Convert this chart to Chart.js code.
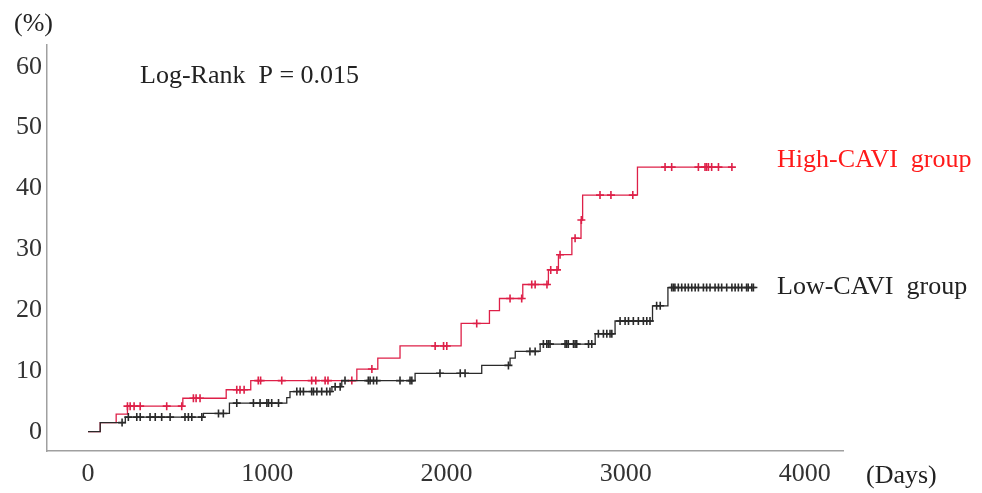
<!DOCTYPE html>
<html>
<head>
<meta charset="utf-8">
<script src="https://cdn.jsdelivr.net/npm/chart.js@4/dist/chart.umd.min.js"></script>
<style>
  body { margin: 0; background: #fff; }
  canvas { display: block; }
</style>
</head>
<body>
<canvas id="kmChart" width="982" height="493"></canvas>
<script>
// cumulative incidence (%) step curves
var highTimes  = [0, 68, 157, 220, 529, 771, 908, 1500, 1617, 1741, 2082, 2240, 2296, 2426, 2569, 2625, 2700, 2751, 2760, 3066];
var highValues = [0, 1.5, 2.9, 4.2, 5.5, 6.9, 8.4, 10.3, 12.1, 14.1, 17.8, 19.9, 21.9, 24.2, 26.6, 29.1, 31.8, 34.8, 38.9, 43.5];
var highCensor = [220, 235, 257, 291, 439, 523, 588, 603, 625, 830, 848, 871, 950, 963, 1081, 1248, 1271, 1323, 1339, 1472,
                  1584, 1937, 1984, 2002, 2169, 2355, 2420, 2476, 2495, 2561, 2582, 2617, 2634, 2718, 2753,
                  2857, 2918, 3040, 3220, 3257, 3406, 3443, 3452, 3462, 3480, 3518, 3593];

var lowTimes  = [0, 68, 208, 644, 789, 1109, 1127, 1361, 1416, 1825, 2197, 2355, 2384, 2523, 2830, 2941, 3150, 3236];
var lowValues = [0, 1.5, 2.4, 3.0, 4.7, 5.6, 6.6, 7.4, 8.4, 9.6, 10.9, 12.1, 13.2, 14.4, 16.1, 18.2, 20.7, 23.7];
var lowCensor = [190, 225, 272, 291, 346, 375, 411, 458, 541, 560, 579, 635, 728, 755, 830, 923, 960, 998, 1007, 1025, 1063,
                 1165, 1184, 1202, 1248, 1258, 1277, 1304, 1332, 1350, 1379, 1407, 1434, 1564, 1574, 1593, 1611, 1741, 1797, 1807,
                 1964, 2077, 2104, 2346, 2466, 2495, 2541, 2560, 2569, 2578, 2662, 2671, 2680, 2709, 2718, 2727, 2793, 2811,
                 2848, 2876, 2895, 2913, 2923, 2969, 2997, 3016, 3043, 3071, 3099, 3118, 3136, 3173, 3193,
                 3257, 3266, 3275, 3294, 3313, 3332, 3350, 3369, 3388, 3406, 3434, 3452, 3471, 3499, 3518, 3536, 3564,
                 3593, 3611, 3629, 3648, 3675, 3684, 3704, 3713];

var xTicks = [0, 1000, 2000, 3000, 4000];
var yTicks = [0, 10, 20, 30, 40, 50, 60];

var red = 'rgb(222, 32, 72)';
var dark = '#2a2a2a';

function levelAt(times, values, t) {
  var v = values[0];
  for (var i = 0; i < times.length; i++) {
    if (times[i] <= t) v = values[i];
  }
  return v;
}

function curve(times, values, censor) {
  var pts = times.map(function (t, i) { return { x: t, y: values[i] }; });
  var end = censor[censor.length - 1];
  pts.push({ x: end, y: levelAt(times, values, end) });
  return pts;
}

function marks(times, values, censor) {
  return censor.map(function (t) { return { x: t, y: levelAt(times, values, t) }; });
}

var serif = '"Liberation Serif", "Times New Roman", serif';

var textPlugin = {
  id: 'texts',
  afterDraw: function (chart) {
    var ctx = chart.ctx;
    ctx.save();
    ctx.font = '26px ' + serif;
    ctx.textAlign = 'left';
    ctx.textBaseline = 'alphabetic';
    ctx.fillStyle = '#222';
    ctx.fillText('(%)', 14, 31);
    ctx.fillText('Log-Rank  P = 0.015', 140, 83);
    ctx.fillText('(Days)', 866, 483);
    ctx.fillText('Low-CAVI  group', 777, 294);
    ctx.fillStyle = '#ff1a1a';
    ctx.fillText('High-CAVI  group', 777, 167);
    ctx.restore();
  }
};

new Chart(document.getElementById('kmChart'), {
  type: 'scatter',
  data: {
    datasets: [
      {
        data: curve(lowTimes, lowValues, lowCensor),
        showLine: true, stepped: true,
        borderColor: dark, borderWidth: 1.3, pointRadius: 0
      },
      {
        data: marks(lowTimes, lowValues, lowCensor),
        pointStyle: 'cross', pointRadius: 4, borderWidth: 1.6,
        borderColor: dark, backgroundColor: dark
      },
      {
        data: curve(highTimes, highValues, highCensor),
        showLine: true, stepped: true,
        borderColor: red, borderWidth: 1.3, pointRadius: 0
      },
      {
        data: marks(highTimes, highValues, highCensor),
        pointStyle: 'cross', pointRadius: 4, borderWidth: 1.6,
        borderColor: red, backgroundColor: red
      }
    ]
  },
  options: {
    responsive: false,
    animation: false,
    layout: { padding: { top: 45, right: 139, left: 0, bottom: 0 } },
    plugins: { legend: { display: false }, tooltip: { enabled: false } },
    scales: {
      x: {
        type: 'linear',
        min: -229, max: 4213,
        afterFit: function (s) { s.height = 42; },
        afterBuildTicks: function (s) { s.ticks = xTicks.map(function (v) { return { value: v }; }); },
        grid: { display: false, drawTicks: false },
        border: { display: true, color: '#a0a0a0', width: 1.5 },
        ticks: {
          padding: 8, color: '#333', font: { family: serif, size: 26 }, maxRotation: 0,
          callback: function (v) { return String(v); }
        }
      },
      y: {
        type: 'linear',
        min: -3.17, max: 63.57,
        afterFit: function (s) { s.width = 47; },
        afterBuildTicks: function (s) { s.ticks = yTicks.map(function (v) { return { value: v }; }); },
        grid: { display: false, drawTicks: false },
        border: { display: true, color: '#a0a0a0', width: 1.5 },
        ticks: {
          padding: 5, color: '#333', font: { family: serif, size: 26 },
          callback: function (v) { return String(v); }
        }
      }
    }
  },
  plugins: [textPlugin]
});
</script>
</body>
</html>
